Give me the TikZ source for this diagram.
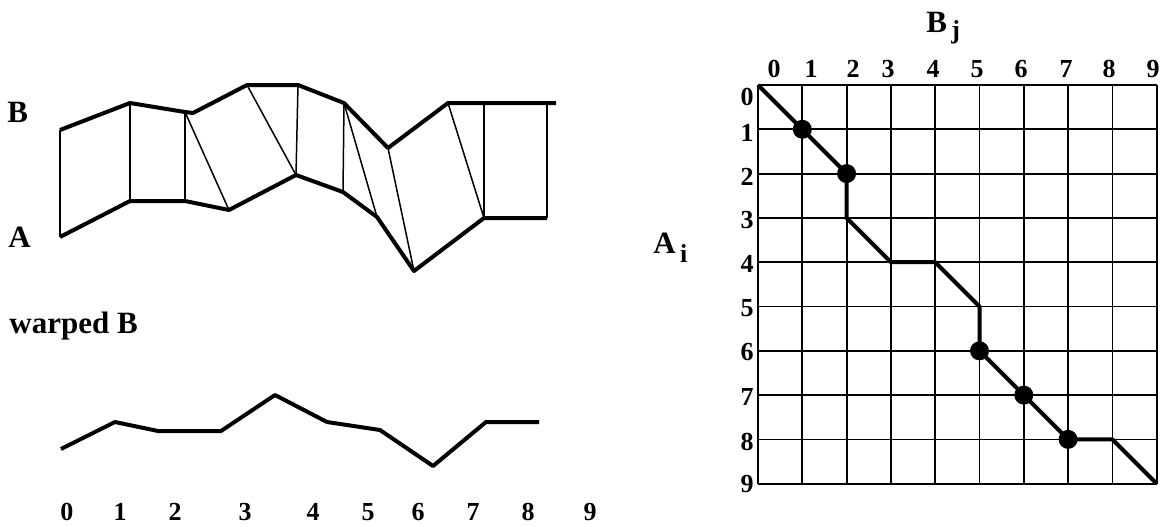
\documentclass[tikz,border=0pt]{standalone}
\usepackage{fontspec}
\setmainfont{Liberation Serif}
\usetikzlibrary{positioning}

\begin{document}
\begin{tikzpicture}[
    x=0.5pt, y=-0.5pt,
    every node/.style={font=\bfseries},
    series/.style={line width=2pt, line join=round},
    link/.style={line width=0.75pt},
    gridline/.style={line width=0.9pt},
    pathline/.style={line width=2pt, line join=round},
    digit/.style={font=\bfseries\fontsize{13}{15}\selectfont, inner sep=0pt},
    title/.style={font=\bfseries\fontsize{15.5}{18}\selectfont, inner sep=0pt},
    hit/.style={circle, fill, inner sep=0pt, minimum size=9.5pt}
]
\useasboundingbox (0,0) rectangle (1163,526);

% series A and B with their matched points
\foreach \n/\x/\y in {0/60/130,1/130/103,2/185/112,3/247/85,4/298/85,5/344/103,6/388/148,7/448/103,8/484/103,9/547/103}
    \coordinate (b\n) at (\x,\y);
\foreach \n/\x/\y in {0/60/237,1/130/201,2/185/201,3/229/210,4/296/175,5/343/192,6/377/217,7/414/271,8/484/218,9/547/218}
    \coordinate (a\n) at (\x,\y);
\coordinate (bend) at (556,103);

\draw[series] (b0) -- (b1) -- (b2) -- (193,113) -- (b3) -- (b4) -- (b5) -- (b6) -- (b7) -- (b8) -- (b9) -- (bend);
\draw[series] (a0) -- (a1) -- (a2) -- (a3) -- (a4) -- (a5) -- (a6) -- (a7) -- (a8) -- (a9);
\foreach \u/\v in {0/0,1/1,2/2,2/3,3/4,4/4,5/5,5/6,6/7,7/8,8/8,9/9}
    \draw[link] (b\u) -- (a\v);

\node[title, anchor=base west] (labB) at (7,122) {B};
\node[title, anchor=base west] (labA) at (8,247) {A};
\node[title, anchor=base west] (labW) at (9,333) {warped B};

% warped B
\foreach \n/\x/\y in {0/61/449,1/115/422,2/158/431,3/221/431,4/275/395,5/327/422,6/380/430,7/433/466,8/486/422,9/539/422}
    \coordinate (w\n) at (\x,\y);
\draw[series] (w0) -- (w1) -- (w2) -- (w3) -- (w4) -- (w5) -- (w6) -- (w7) -- (w8) -- (w9);
\foreach \n/\x in {0/67,1/120,2/175,3/245,4/313,5/368,6/418,7/473,8/528,9/590}
    \node[digit, anchor=base] (bot\n) at (\x,520) {\n};

% warping grid
\begin{scope}[shift={(379pt,-42.5pt)}, x=22.15pt, y=-22.15pt]
\foreach \k in {0,...,9} {
    \draw[gridline] (\k,0) -- (\k,9);
    \draw[gridline] (0,\k) -- (9,\k);
}
\foreach \c/\r [count=\k from 0] in {0/0,1/1,2/2,2/3,3/4,4/4,5/5,5/6,6/7,7/8,8/8,9/9}
    \coordinate (p\k) at (\c,\r);
\draw[pathline] (p0) -- (p1) -- (p2) -- (p3) -- (p4) -- (p5) -- (p6) -- (p7) -- (p8) -- (p9) -- (p10) -- (p11);
\foreach \k in {1,2,7,8,9}
    \node[hit] (dot\k) at (p\k) {};
\end{scope}

\foreach \n/\x in {0/774,1/811,2/853,3/888,4/933,5/977,6/1021,7/1066,8/1109,9/1153}
    \node[digit, anchor=base] (col\n) at (\x,77) {\n};
\foreach \n/\y in {0/97,1/133,2/177,3/220,4/264,5/308,6/352,7/397,8/442,9/484}
    \node[digit, anchor=east] (row\n) at (754,\y) {\n};

\node[title, anchor=base west] (labBj) at (926,32) {B\raisebox{-3pt}{\fontsize{13}{15}\selectfont\,j}};
\node[title, anchor=base west] (labAi) at (653,253) {A\raisebox{-4.5pt}{\fontsize{13}{15}\selectfont\,i}};

\end{tikzpicture}
\end{document}
